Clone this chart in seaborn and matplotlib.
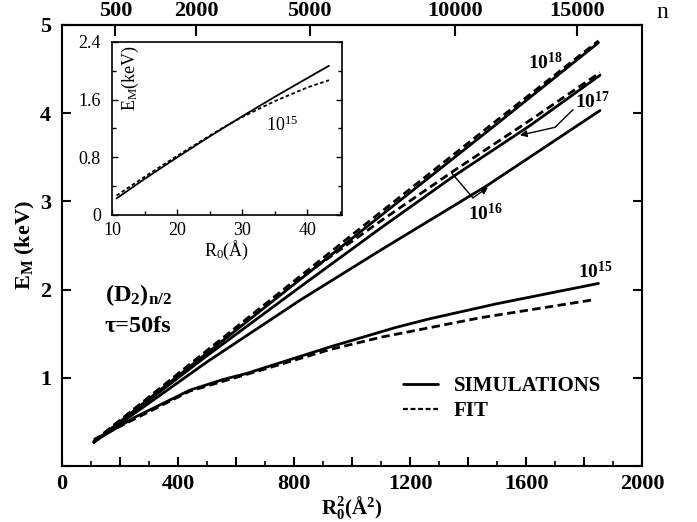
import matplotlib
matplotlib.use("Agg")
import numpy as np
import pandas as pd
import seaborn as sns
import matplotlib.pyplot as plt
from matplotlib.lines import Line2D
from matplotlib.ticker import MultipleLocator, FuncFormatter, FixedLocator, FixedFormatter

# ---------------- data ----------------
r2_sim18 = [110, 500, 1000, 1500, 1850]
e_sim18 = [0.27, 1.28, 2.58, 3.88, 4.80]
r2_fit18 = [110, 500, 1000, 1500, 1850]
e_fit18 = [0.28, 1.31, 2.62, 3.92, 4.82]

r2_sim17 = [110, 500, 821, 1100, 1348, 1614, 1855]
e_sim17 = [0.27, 1.25, 2.03, 2.70, 3.28, 3.86, 4.43]
r2_fit16 = [110, 500, 821, 1100, 1348, 1614, 1855]
e_fit16 = [0.28, 1.30, 2.13, 2.78, 3.34, 3.92, 4.46]

r2_sim16 = [110, 500, 821, 1100, 1466, 1855]
e_sim16 = [0.27, 1.18, 1.88, 2.45, 3.18, 4.03]

r2_sim15 = [110, 250, 441, 555, 637, 924, 1150, 1269, 1500, 1850]
e_sim15 = [0.28, 0.55, 0.86, 0.98, 1.05, 1.35, 1.57, 1.67, 1.84, 2.07]
r2_fit15 = [110, 441, 700, 924, 1100, 1441, 1824]
e_fit15 = [0.30, 0.85, 1.10, 1.32, 1.46, 1.68, 1.88]

# inset: E_M vs R0 for 10^15
r0_in_sim = [10.7, 15, 20, 25, 30, 35, 40, 43.3]
e_in_sim = [0.23, 0.50, 0.80, 1.09, 1.37, 1.64, 1.90, 2.07]
r0_in_fit = [10.7, 15, 20, 25, 27, 30, 35, 40, 43.3]
e_in_fit = [0.27, 0.53, 0.82, 1.10, 1.21, 1.36, 1.58, 1.77, 1.87]

n_ticks = [500, 2000, 5000, 10000, 15000]
x_ticks_major = [0, 200, 400, 600, 800, 1000, 1200, 1400, 1600, 1800, 2000]
y_ticks = [0, 1, 2, 3, 4, 5]
y_ticklabels = ["", "1", "2", "3", "4", "5"]
in_xticks = [10, 20, 30, 40]
in_yticks = [0, 0.8, 1.6, 2.4]
in_yticklabels = ["0", "0.8", "1.6", "2.4"]

# ---------------- style ----------------
sns.set_theme(style="ticks")
plt.rcParams.update({
    "font.family": ["Liberation Serif", "DejaVu Serif"],
    "mathtext.fontset": "custom",
    "mathtext.rm": "Liberation Serif",
    "mathtext.it": "Liberation Serif:italic",
    "mathtext.bf": "Liberation Serif:bold",
    "axes.linewidth": 1.5,
    "axes.edgecolor": "black",
    "axes.labelcolor": "black",
    "xtick.color": "black",
    "ytick.color": "black",
    "text.color": "black",
})

W, H = 697, 522
fig = plt.figure(figsize=(W / 100, H / 100), dpi=100)
ax = fig.add_axes([62 / W, 1 - 466 / H, 580 / W, 441 / H])

LW = 2.0
DASH = (0, (3, 1.6))

def draw(a, x, y, ls="-", lw=LW):
    df = pd.DataFrame({"x": x, "y": y})
    sns.lineplot(data=df, x="x", y="y", ax=a, color="black", lw=lw,
                 linestyle=ls, errorbar=None, sort=True)

draw(ax, r2_sim18, e_sim18)
draw(ax, r2_fit18, e_fit18, DASH)
draw(ax, r2_sim17, e_sim17)
draw(ax, r2_fit16, e_fit16, DASH)
draw(ax, r2_sim16, e_sim16)
draw(ax, r2_sim15, e_sim15)
draw(ax, r2_fit15, e_fit15, DASH)

ax.set_xlim(0, 2000)
ax.set_ylim(0, 5)
ax.xaxis.set_major_locator(FixedLocator(x_ticks_major))
ax.xaxis.set_major_formatter(FuncFormatter(lambda v, p: f"{int(round(v))}" if int(round(v)) % 400 == 0 else ""))
ax.xaxis.set_minor_locator(MultipleLocator(100))
ax.yaxis.set_major_locator(FixedLocator(y_ticks))
ax.yaxis.set_major_formatter(FixedFormatter(y_ticklabels))
ax.tick_params(axis="x", which="major", direction="in", length=6.5, width=1.5, top=False, pad=6,
               labelsize=16)
ax.tick_params(axis="x", which="minor", direction="in", length=3.5, width=1.2, top=False)
ax.tick_params(axis="y", which="major", direction="in", length=6.5, width=1.5, left=True, right=True,
               pad=8, labelsize=16)
for lab in ax.get_xticklabels() + ax.get_yticklabels():
    lab.set_fontweight("bold")

ax.set_xlabel(r"$\mathbf{R_0^2(Å^2)}$", fontsize=15, labelpad=0)
ax.set_ylabel(r"$\mathbf{E_M\ (keV)}$", fontsize=16, labelpad=2)

# top axis: cluster size n
def r2_to_n(x):
    return (np.maximum(x, 1e-9) / 2.92) ** 1.5

def n_to_r2(n):
    return 2.92 * np.maximum(n, 1e-9) ** (2.0 / 3.0)

sec = ax.secondary_xaxis("top", functions=(r2_to_n, n_to_r2))
sec.set_xticks(n_ticks)
sec.set_xticklabels([str(v) for v in n_ticks])
sec.tick_params(direction="in", length=8, width=1.5, pad=3, labelsize=16)
for lab in sec.get_xticklabels():
    lab.set_fontweight("bold")
fig.text(662 / W, 1 - 12 / H, "n", fontsize=17, ha="center", va="center")

# curve labels
lbl = dict(fontsize=14, ha="center", va="center")
ax.text(1666, 4.57, r"$\mathbf{10^{18}}$", **lbl)
ax.text(1831, 4.13, r"$\mathbf{10^{17}}$", **lbl)
ax.text(1459, 2.86, r"$\mathbf{10^{16}}$", **lbl)
ax.text(1841, 2.20, r"$\mathbf{10^{15}}$", **lbl)

ap = dict(arrowstyle="-|>", color="black", lw=1.0, mutation_scale=10, shrinkA=0, shrinkB=0)
ax.plot([1762, 1700], [4.04, 3.84], color="black", lw=1.0)
ax.annotate("", xy=(1579, 3.75), xytext=(1700, 3.84), arrowprops=ap)
ax.annotate("", xy=(1469, 3.16), xytext=(1417, 3.04), arrowprops=ap)
ax.plot([1417, 1344], [3.04, 3.32], color="black", lw=1.0)

ax.text(148, 1.94, r"$\mathbf{(D_2)_{n/2}}$", fontsize=17.5, ha="left", va="center")
ax.text(148, 1.58, "τ=50fs", fontsize=17.5, fontweight="bold", ha="left", va="center")

handles = [Line2D([], [], color="black", lw=LW),
           Line2D([], [], color="black", lw=1.6, linestyle=(0, (2.2, 1.2)))]
ax.legend(handles, ["SIMULATIONS", "FIT"], loc="upper left",
          bbox_to_anchor=(403 / W, 1 - 376 / H), bbox_transform=fig.transFigure,
          frameon=False, handlelength=1.7, handletextpad=0.75, labelspacing=0.25,
          borderpad=0, borderaxespad=0,
          prop={"weight": "bold", "size": 15, "family": "Liberation Serif"})

# ---------------- inset ----------------
axin = fig.add_axes([112 / W, 1 - 215 / H, 230 / W, 173 / H])
draw(axin, r0_in_sim, e_in_sim, "-", 1.3)
draw(axin, r0_in_fit, e_in_fit, (0, (2.0, 1.4)), 1.3)
axin.set_xlim(10, 45.3)
axin.set_ylim(0, 2.4)
axin.xaxis.set_major_locator(FixedLocator(in_xticks))
axin.xaxis.set_minor_locator(MultipleLocator(5))
axin.yaxis.set_major_locator(FixedLocator(in_yticks))
axin.yaxis.set_major_formatter(FixedFormatter(in_yticklabels))
axin.yaxis.set_minor_locator(MultipleLocator(0.4))
for s in axin.spines.values():
    s.set_linewidth(1.2)
axin.tick_params(which="both", direction="in", left=True, right=True, bottom=True, top=False,
                 width=1.0, labelsize=13)
axin.tick_params(which="major", length=4)
axin.tick_params(axis="x", which="major", pad=5)
axin.tick_params(axis="y", which="major", pad=8)
axin.tick_params(which="minor", length=3)
axin.set_xlabel(r"$\mathrm{R_0}$(Å)", fontsize=13, labelpad=0)
axin.set_ylabel("")
axin.text(0.08, 0.79, r"$\mathrm{E_M}$(keV)", fontsize=13, rotation=90,
          ha="center", va="center", transform=axin.transAxes)
axin.text(36.1, 1.25, r"$\mathrm{10^{15}}$", fontsize=13, ha="center", va="center")

fig.savefig("out.png", dpi=100)
